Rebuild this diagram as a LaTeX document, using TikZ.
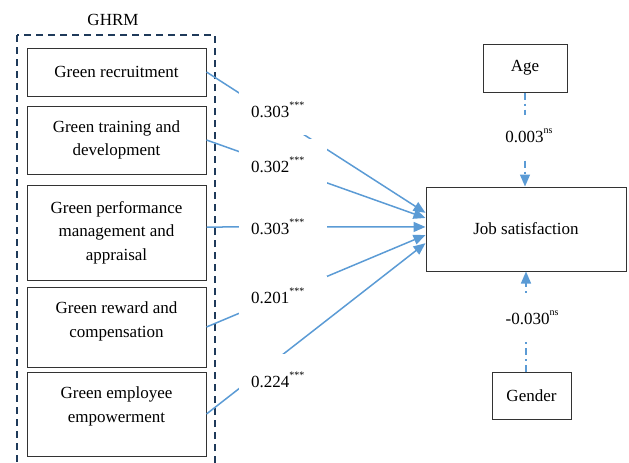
\documentclass[tikz,border=0pt]{standalone}
\usepackage{fontspec}
\setmainfont{Liberation Serif}
\usetikzlibrary{arrows.meta,calc}
\definecolor{lineblue}{HTML}{5B9BD5}
\definecolor{navyline}{HTML}{1F3A5A}
\newcommand{\sig}[1]{\raisebox{0.55em}{\fontsize{10}{10}\selectfont #1}}
\begin{document}
\begin{tikzpicture}[x=1pt,y=-1pt,
  box/.style={draw=black!80, line width=1pt, minimum width=179pt, align=center, inner sep=0pt, font=\fontsize{17}{23.5}\selectfont},
  coef/.style={fill=white, inner xsep=12pt, inner ysep=0pt, text width=64pt, align=left, font=\fontsize{17}{20}\selectfont},
  ctrlcoef/.style={fill=white, inner xsep=2pt, inner ysep=0pt, font=\fontsize{17}{20}\selectfont},
  effarrow/.style={draw=lineblue, line width=1.5pt, -{Triangle[length=12pt,width=10pt]}},
  ctrlarrow/.style={effarrow, dash pattern=on 7pt off 4pt on 2pt off 4pt},
]
\useasboundingbox (0,0) rectangle (629,463);
% GHRM group
\draw[navyline, line width=1.5pt, dash pattern=on 7pt off 5pt] (17,35) rectangle (215,480);
\node[font=\fontsize{17}{20}\selectfont] (ghrm) at (113,20) {GHRM};
% boxes
\node[box, minimum height=48pt] (rec) at (116.5,72) {Green recruitment};
\node[box, minimum height=68pt] (trn) at (116.5,140) {Green training and\\development};
\node[box, minimum height=95pt] (perf) at (116.5,232.5) {Green performance\\management and\\appraisal};
\node[box, minimum height=80pt] (rew) at (116.5,327) {Green reward and\\compensation\\[-16pt]\strut};
\node[box, minimum height=84pt] (emp) at (116.5,414) {Green employee\\empowerment\\[-12pt]\strut};
\node[box, minimum width=84pt, minimum height=48pt] (age) at (525,68) {Age};
\node[box, minimum width=200pt, minimum height=84pt] (job) at (526,229) {\raisebox{-3pt}{Job satisfaction}};
\node[box, minimum width=79pt, minimum height=47pt] (gen) at (531.5,395.5) {Gender};
% effect arrows
\draw[effarrow] (rec.east) -- ($(job.north west)!0.31!(job.south west)$);
\draw[effarrow] (trn.east) -- ($(job.north west)!0.37!(job.south west)$);
\draw[effarrow] ([yshift=5.5pt]perf.east) -- ($(job.north west)!0.476!(job.south west)$);
\draw[effarrow] (rew.east) -- ($(job.north west)!0.571!(job.south west)$);
\draw[effarrow] (emp.east) -- ($(job.north west)!0.667!(job.south west)$);
% control arrows
\draw[ctrlarrow] (age.south) -- (age.south |- job.north);
\draw[ctrlarrow] (job.south |- gen.north) -- (job.south);
% coefficient labels
\node[coef, minimum height=50pt] (c1) at (283,110) {0.303\sig{***}};
\node[coef, minimum height=52pt] (c2) at (283,165) {0.302\sig{***}};
\node[coef, minimum height=40pt] (c3) at (283,227) {0.303\sig{***}};
\node[coef, minimum height=40pt] (c4) at (283,296) {0.201\sig{***}};
\node[coef, minimum height=52pt] (c5) at (283,380) {0.224\sig{***}};
\node[ctrlcoef, minimum height=42pt] (ca) at (529,136) {0.003\sig{ns}};
\node[ctrlcoef, minimum height=44pt] (cg) at (532,318) {-0.030\sig{ns}};
\end{tikzpicture}
\end{document}
